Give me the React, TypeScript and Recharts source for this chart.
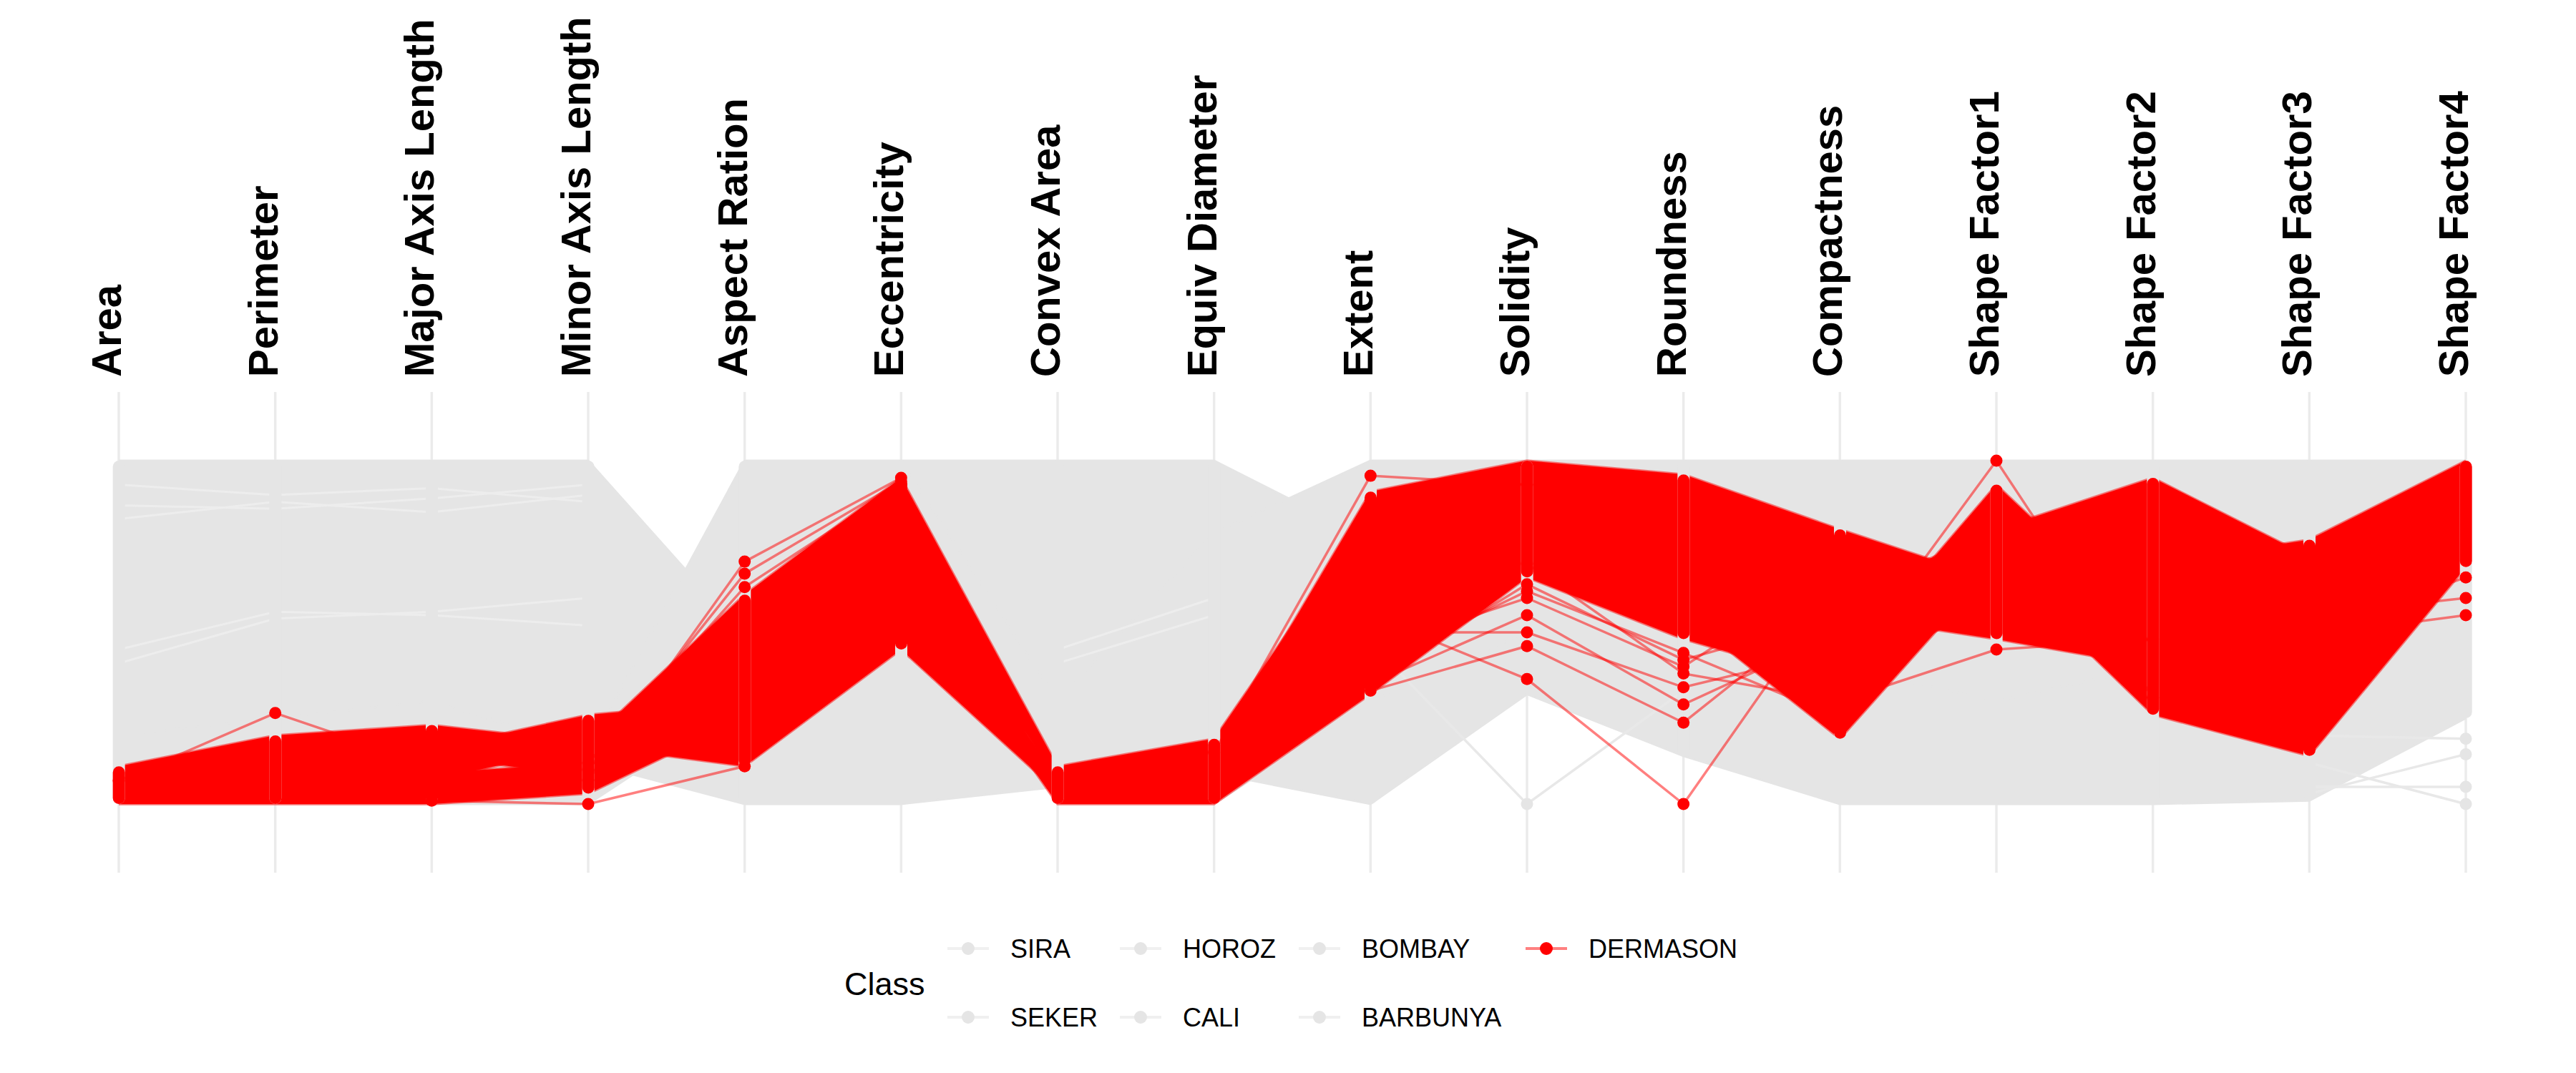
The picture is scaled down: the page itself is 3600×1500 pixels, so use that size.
import React from 'react';
import { Area, Bar, CartesianGrid, ComposedChart, Line, XAxis, YAxis } from 'recharts';

// parallel coordinates, every variable rescaled to 0..1 (uniminmax)
const AXES = [
  'Area',
  'Perimeter',
  'Major Axis Length',
  'Minor Axis Length',
  'Aspect Ration',
  'Eccentricity',
  'Convex Area',
  'Equiv Diameter',
  'Extent',
  'Solidity',
  'Roundness',
  'Compactness',
  'Shape Factor1',
  'Shape Factor2',
  'Shape Factor3',
  'Shape Factor4',
];

const CLASSES = ['SIRA', 'SEKER', 'HOROZ', 'CALI', 'BOMBAY', 'BARBUNYA', 'DERMASON'];
const HIGHLIGHT = 'DERMASON';

// grey bundles (the other six classes): low / high edge on each axis
const GREY_A_LO = [0.08, 0.1, 0.1, 0.12, 0.0, 0.0, 0.05, 0.09, 0.0, 0.32, 0.14, 0.0, 0.0, 0.0, 0.01, 0.25];
const GREY_A_HI = [1.0, 1.0, 1.0, 1.0, 0.49, 1.0, 1.0, 1.0, 0.77, 0.95, 0.9, 0.6, 0.6, 0.5, 0.5, 0.9];
const GREY_B_LO = [0.0, 0.0, 0.0, 0.0, 0.3, 0.8, 0.0, 0.0, 0.3, 0.5, 0.3, 0.4, 0.3, 0.4, 0.3, 0.3];
const GREY_B_HI = [0.2, 0.25, 0.3, 0.16, 1.0, 1.0, 0.3, 0.79, 1.0, 1.0, 1.0, 1.0, 1.0, 1.0, 1.0, 1.0];

// DERMASON, split in three sub-bundles (small / round / elongated)
const DER_SMALL_LO = [0.0, 0.0, 0.0, 0.03, 0.25, 0.65, 0.0, 0.0, 0.32, 0.66, 0.48, 0.35, 0.6, 0.6, 0.3, 0.72];
const DER_SMALL_HI = [0.045, 0.08, 0.09, 0.12, 0.45, 0.85, 0.045, 0.08, 0.7, 0.85, 0.75, 0.6, 0.8, 0.95, 0.72, 0.97];
const DER_ROUND_LO = [0.035, 0.06, 0.07, 0.17, 0.11, 0.45, 0.035, 0.07, 0.45, 0.75, 0.7, 0.55, 0.48, 0.4, 0.5, 0.75];
const DER_ROUND_HI = [0.08, 0.14, 0.16, 0.26, 0.3, 0.7, 0.08, 0.14, 0.91, 1.0, 0.96, 0.8, 0.65, 0.7, 0.77, 1.0];
const DER_LONG_LO = [0.07, 0.12, 0.14, 0.08, 0.4, 0.75, 0.07, 0.12, 0.5, 0.7, 0.55, 0.19, 0.7, 0.26, 0.14, 0.69];
const DER_LONG_HI = [0.11, 0.2, 0.23, 0.18, 0.61, 0.95, 0.11, 0.19, 0.85, 0.97, 0.85, 0.4, 0.93, 0.5, 0.4, 0.92];

// single stray DERMASON beans: [axis index, value]
const RED_STRAYS: [number, number][][] = [
  [[0, 0.068], [1, 0.265], [2, 0.11]],
  [[2, 0.01], [3, 0.0], [4, 0.11]],
  [[3, 0.07], [4, 0.706], [5, 0.95]],
  [[3, 0.1], [4, 0.671], [5, 0.94]],
  [[3, 0.12], [4, 0.632], [5, 0.93]],
  [[7, 0.15], [8, 0.956], [9, 0.93]],
  [[8, 0.55], [9, 0.364], [10, 0.0], [11, 0.65]],
  [[8, 0.35], [9, 0.55], [10, 0.29], [11, 0.5]],
  [[8, 0.33], [9, 0.46], [10, 0.237], [11, 0.6]],
  [[8, 0.5], [9, 0.5], [10, 0.34], [11, 0.45]],
  [[8, 0.45], [9, 0.6], [10, 0.4], [11, 0.7]],
  [[8, 0.4], [9, 0.62], [10, 0.44], [11, 0.25]],
  [[8, 0.36], [9, 0.64], [10, 0.42], [11, 0.55]],
  [[9, 0.7], [10, 0.38], [11, 0.3]],
  [[11, 0.38], [12, 1.0], [13, 0.31]],
  [[11, 0.3], [12, 0.45], [13, 0.48]],
  [[14, 0.55], [15, 0.6]],
  [[14, 0.49], [15, 0.55]],
  [[14, 0.5], [15, 0.66]],
];

// single stray beans of the other classes
const GREY_STRAYS: [number, number][][] = [
  [[8, 0.47], [9, 0.0], [10, 0.33]],
  [[14, 0.05], [15, 0.05]],
  [[14, 0.12], [15, 0.0]],
  [[14, 0.03], [15, 0.145]],
  [[14, 0.2], [15, 0.19]],
];

// thinly populated paths inside the grey mass (show as light streaks)
const GREY_THIN: [number, number][][] = [
  [[0, 0.93], [1, 0.9], [2, 0.92], [3, 0.88]],
  [[0, 0.87], [1, 0.86], [2, 0.89], [3, 0.93]],
  [[0, 0.83], [1, 0.88], [2, 0.85], [3, 0.9]],
  [[0, 0.45], [1, 0.56], [2, 0.55], [3, 0.52]],
  [[0, 0.41], [1, 0.54], [2, 0.56], [3, 0.6]],
  [[6, 0.45], [7, 0.6]],
  [[6, 0.41], [7, 0.55]],
];

const RED = '#FF0000';
const GREY = '#E5E5E5';
const FONT = '"Liberation Sans", Arial, Helvetica, sans-serif';

const W = 3600;
const H = 1500;
const MARGIN = { top: 548, right: 154, bottom: 280, left: 166 };
const TICKS = AXES.map((_, i) => i);

const pick = (path: [number, number][], i: number) => {
  const p = path.find(([a]) => a === i);
  return p ? p[1] : null;
};

const rows = AXES.map((name, i) => {
  const row: Record<string, any> = {
    x: i,
    name,
    greyA: [GREY_A_LO[i], GREY_A_HI[i]],
    greyB: [GREY_B_LO[i], GREY_B_HI[i]],
    derSmall: [DER_SMALL_LO[i], DER_SMALL_HI[i]],
    derRound: [DER_ROUND_LO[i], DER_ROUND_HI[i]],
    derLong: [DER_LONG_LO[i], DER_LONG_HI[i]],
    greyDots: [Math.min(GREY_A_LO[i], GREY_B_LO[i]), Math.max(GREY_A_HI[i], GREY_B_HI[i])],
    redDots: [
      Math.min(DER_SMALL_LO[i], DER_ROUND_LO[i], DER_LONG_LO[i]),
      Math.max(DER_SMALL_HI[i], DER_ROUND_HI[i], DER_LONG_HI[i]),
    ],
  };
  RED_STRAYS.forEach((s, k) => (row[`rs${k}`] = pick(s, i)));
  GREY_STRAYS.forEach((s, k) => (row[`gs${k}`] = pick(s, i)));
  GREY_THIN.forEach((s, k) => (row[`gt${k}`] = pick(s, i)));
  return row;
});

function AxisLabel({ x, payload }: any) {
  const bx = x + 3;
  const by = 527;
  return (
    <text
      x={bx}
      y={by}
      transform={`rotate(-90 ${bx} ${by})`}
      fontSize={58}
      fontWeight="bold"
      fontFamily={FONT}
      fill="#000"
    >
      {AXES[payload.value]}
    </text>
  );
}

function Layer({ children, labels = false }: { children: React.ReactNode; labels?: boolean }) {
  return (
    <div style={{ position: 'absolute', left: 0, top: 0 }}>
      <ComposedChart
        width={W}
        height={H}
        data={rows}
        margin={labels ? { ...MARGIN, top: MARGIN.top - 30 } : MARGIN}
      >
        {labels ? (
          <XAxis
            type="number"
            dataKey="x"
            domain={[0, 15]}
            ticks={TICKS}
            orientation="top"
            height={30}
            interval={0}
            axisLine={false}
            tickLine={false}
            tick={(p: any) => <AxisLabel {...p} />}
          />
        ) : (
          <XAxis type="number" dataKey="x" domain={[0, 15]} ticks={TICKS} hide />
        )}
        <YAxis type="number" domain={[-0.2, 1.2]} hide />
        {children}
      </ComposedChart>
    </div>
  );
}

function LegendKey({ cx, cy, hot }: { cx: number; cy: number; hot: boolean }) {
  return (
    <g>
      <line x1={cx - 29} x2={cx + 29} y1={cy} y2={cy} stroke={hot ? '#FF8080' : '#F0F0F0'} strokeWidth={4} />
      <circle cx={cx} cy={cy} r={9} fill={hot ? RED : GREY} />
    </g>
  );
}

function ClassLegend() {
  const keyX = [1353, 1594, 1844, 2161];
  const rowY = [1326, 1422];
  return (
    <svg width={W} height={H} style={{ position: 'absolute', left: 0, top: 0 }}>
      <text x={1180} y={1391} fontSize={45} fontFamily={FONT} fill="#000">
        Class
      </text>
      {CLASSES.map((c, i) => {
        const col = Math.floor(i / 2);
        const cy = rowY[i % 2];
        return (
          <g key={c}>
            <LegendKey cx={keyX[col]} cy={cy} hot={c === HIGHLIGHT} />
            <text x={keyX[col] + 59} y={cy + 13} fontSize={36} fontFamily={FONT} fill="#000">
              {c}
            </text>
          </g>
        );
      })}
    </svg>
  );
}

export default function App() {
  return (
    <div style={{ position: 'absolute', left: 0, top: 0, width: W, height: H, background: '#fff', overflow: 'hidden' }}>
      <Layer labels>
        <CartesianGrid horizontal={false} stroke="#EBEBEB" strokeWidth={3.5} />
      </Layer>
      <Layer>
        <Area type="linear" dataKey="greyA" fill={GREY} fillOpacity={1} stroke={GREY} strokeWidth={3} isAnimationActive={false} activeDot={false} />
        <Area type="linear" dataKey="greyB" fill={GREY} fillOpacity={1} stroke={GREY} strokeWidth={3} isAnimationActive={false} activeDot={false} />
        {GREY_THIN.map((_, k) => (
          <Line
            key={`t${k}`}
            type="linear"
            dataKey={`gt${k}`}
            stroke="#EDEDED"
            strokeWidth={3}
            dot={false}
            activeDot={false}
            isAnimationActive={false}
          />
        ))}
        {GREY_STRAYS.map((_, k) => (
          <Line
            key={k}
            type="linear"
            dataKey={`gs${k}`}
            stroke="#E8E8E8"
            strokeWidth={3.5}
            dot={{ r: 8.5, fill: GREY, stroke: 'none' }}
            activeDot={false}
            isAnimationActive={false}
          />
        ))}
      </Layer>
      <Layer>
        <Area type="linear" dataKey="derSmall" fill={RED} fillOpacity={1} stroke={RED} strokeOpacity={0.5} strokeWidth={3.5} isAnimationActive={false} activeDot={false} />
        <Area type="linear" dataKey="derRound" fill={RED} fillOpacity={1} stroke={RED} strokeOpacity={0.5} strokeWidth={3.5} isAnimationActive={false} activeDot={false} />
        <Area type="linear" dataKey="derLong" fill={RED} fillOpacity={1} stroke={RED} strokeOpacity={0.5} strokeWidth={3.5} isAnimationActive={false} activeDot={false} />
      </Layer>
      <Layer>
        <Bar dataKey="greyDots" barSize={17} radius={8.5} fill={GREY} isAnimationActive={false} />
      </Layer>
      <Layer>
        {RED_STRAYS.map((_, k) => (
          <Line
            key={k}
            type="linear"
            dataKey={`rs${k}`}
            stroke={RED}
            strokeOpacity={0.5}
            strokeWidth={3.5}
            dot={{ r: 8.5, fill: RED, stroke: 'none' }}
            activeDot={false}
            isAnimationActive={false}
          />
        ))}
        <Bar dataKey="redDots" barSize={17} radius={8.5} fill={RED} isAnimationActive={false} />
      </Layer>
      <ClassLegend />
    </div>
  );
}
